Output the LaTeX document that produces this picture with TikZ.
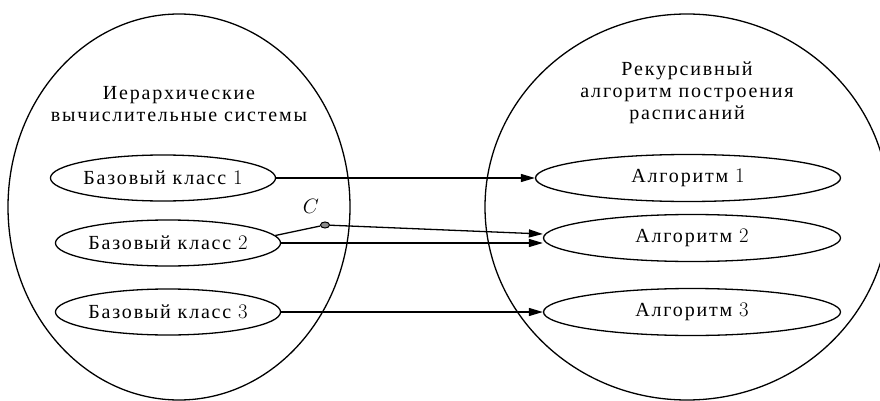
\documentclass[tikz,border=0pt]{standalone}
\usepackage{fontspec}
\setmainfont{Liberation Serif}[LetterSpace=9]
\usetikzlibrary{shapes.geometric,arrows.meta}

\begin{document}
\begin{tikzpicture}[x=1pt, y=-1pt, line width=1.3pt, >={Triangle[length=14pt,width=8pt]},
	txt/.style={font=\fontsize{20}{22}\selectfont},
	cls/.style={txt, draw, ellipse, inner sep=0pt, minimum width=209pt, minimum height=46pt},
	alg/.style={txt, draw, ellipse, inner sep=0pt, minimum width=297pt, minimum height=47pt},
	title/.style={txt, align=center, inner sep=0pt},
	dot/.style={draw, ellipse, fill=black!45, inner sep=0pt, minimum width=9pt, minimum height=6pt, line width=1pt}]
	\useasboundingbox (0,0) rectangle (880,401);
	\clip (0,0) rectangle (880,401);

	% Big ellipses
	\draw (179,207) ellipse (171 and 193);
	\draw (687,207) ellipse (202 and 193);

	% Titles
	\node[title] (hcs) at (179,104) {Иерархические\\вычислительные системы};
	\node[title] (ras) at (687,93) {Рекурсивный\\алгоритм построения\\расписаний};

	% Base classes
	\node[cls, minimum width=218pt] (cls1) at (163,178) {Базовый класс $1$};
	\node[cls] (cls2) at (168,243) {Базовый класс $2$};
	\node[cls] (cls3) at (168,312) {Базовый класс $3$};

	% Algorithms
	\node[alg, minimum width=305pt] (alg1) at (688,178) {Алгоритм $1$};
	\node[alg] (alg2) at (692,238) {Алгоритм $2$};
	\node[alg] (alg3) at (692,312) {Алгоритм $3$};

	% Point C
	\node[dot] (c) at (325,225) {};
	\node[txt] (clabel) at (311,206) {$C$};

	% Connectors
	\draw[->] (cls1.east) -- (alg1.west);
	\draw (cls2.4) -- (c);
	\draw[->] (c) -- ([yshift=4pt]alg2.west);
	\draw[->] (cls2.east) -- (cls2.east -| alg2.west);
	\draw[->] (cls3.east) -- (alg3.west);
\end{tikzpicture}
\end{document}
